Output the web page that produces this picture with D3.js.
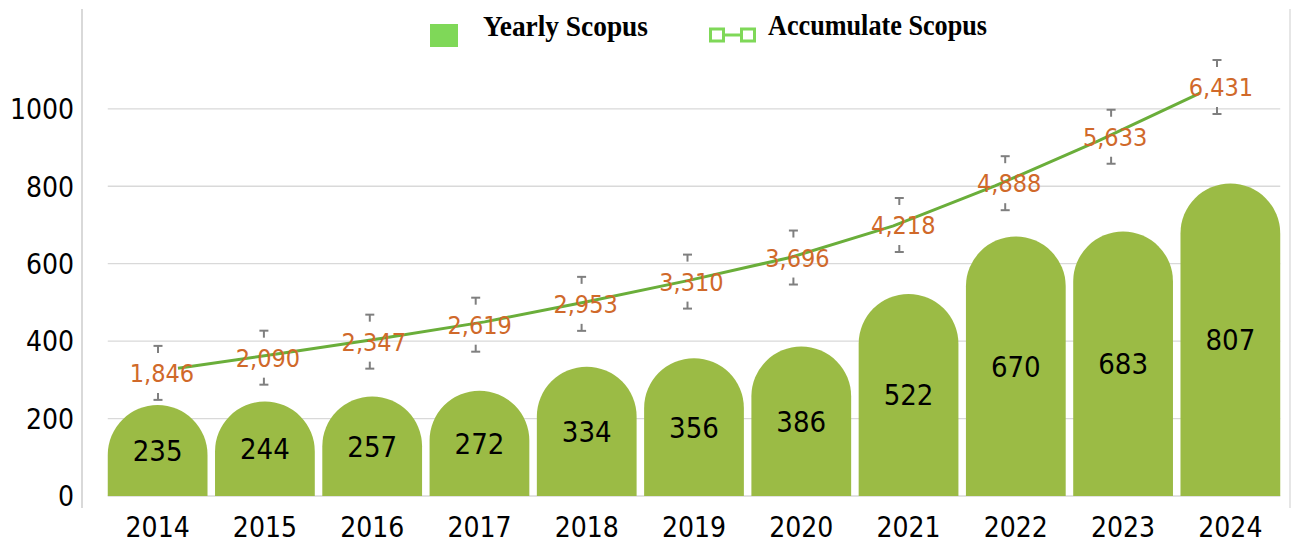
<!DOCTYPE html>
<html>
<head>
<meta charset="utf-8">
<script src="https://cdn.jsdelivr.net/npm/d3@7"></script>
<style>
  body { margin: 0; background: #fff; }
  svg { display: block; }
</style>
</head>
<body>
<svg id="chart" width="1293" height="549"></svg>
<script>
const years = ["2014", "2015", "2016", "2017", "2018", "2019", "2020", "2021", "2022", "2023", "2024"];
const yearly = [235, 244, 257, 272, 334, 356, 386, 522, 670, 683, 807];
const accumulate = [1846, 2090, 2347, 2619, 2953, 3310, 3696, 4218, 4888, 5633, 6431];
const yTicks = [0, 200, 400, 600, 800, 1000];

const numFont = "'DejaVu Sans Condensed', 'DejaVu Sans', 'Noto Sans', sans-serif";
const serif = "'Liberation Serif', 'Times New Roman', serif";
const barColor = "#9bbb45";
const legendGreen = "#7fd858";
const lineColor = "#6aae3a";
const labelColor = "#d0692a";
const gridColor = "#d9d9d9";

const svg = d3.select("#chart");

// primary axis (yearly)
const x = d3.scaleBand().domain(years).range([104, 1284]).paddingInner(0.07).paddingOuter(0.035);
const y = d3.scaleLinear().domain([0, 1250]).range([496, 12]);

// secondary (accumulated) - line and labels sit on slightly different positions
const xLine = d3.scalePoint().domain(years).range([178, 1200]);
const yLine = d3.scaleLinear().domain([0, 7000]).range([479, 59]);
const xErr = d3.scalePoint().domain(years).range([158, 1217]);
const yErr = d3.scaleLinear().domain([0, 7000]).range([488, 51.5]);

const gx0 = x(years[0]), gx1 = x(years[years.length - 1]) + x.bandwidth();

// frame lines
svg.append("line").attr("x1", 82).attr("x2", 82).attr("y1", 9).attr("y2", 508)
  .attr("stroke", gridColor).attr("stroke-width", 2);
svg.append("line").attr("x1", 1290).attr("x2", 1290).attr("y1", 9).attr("y2", 508)
  .attr("stroke", "#e6e6e6").attr("stroke-width", 2);

// gridlines
svg.append("g").selectAll("line").data(yTicks).join("line")
  .attr("x1", gx0).attr("x2", gx1)
  .attr("y1", d => y(d)).attr("y2", d => y(d))
  .attr("stroke", gridColor).attr("stroke-width", 1.3);

// y axis
const yAxis = svg.append("g").attr("transform", "translate(74,0)")
  .call(d3.axisLeft(y).tickValues(yTicks).tickFormat(d3.format("d")).tickSize(0).tickPadding(0));
yAxis.select(".domain").remove();
yAxis.selectAll("text").attr("font-family", numFont).attr("font-size", 28)
  .attr("fill", "#000").attr("dy", "0.35em");

// x axis
const xAxis = svg.append("g").attr("transform", "translate(0,510)")
  .call(d3.axisBottom(x).tickSize(0).tickPadding(0));
xAxis.select(".domain").remove();
xAxis.selectAll("text").attr("font-family", numFont).attr("font-size", 28)
  .attr("fill", "#000").attr("dy", "0.95em");

// bars with round tops
const data = years.map((yr, i) => ({ yr, v: yearly[i], acc: accumulate[i] }));
const barPath = d => {
  const w = x.bandwidth(), r = w / 2, x0 = x(d.yr), y0 = y(0), yt = y(d.v);
  return `M${x0},${y0} L${x0},${yt + r} A${r},${r} 0 0 1 ${x0 + w},${yt + r} L${x0 + w},${y0} Z`;
};
svg.append("g").selectAll("path").data(data).join("path")
  .attr("d", barPath).attr("fill", barColor);

svg.append("g").selectAll("text").data(data).join("text")
  .attr("x", d => x(d.yr) + x.bandwidth() / 2)
  .attr("y", d => (y(0) + y(d.v)) / 2)
  .attr("dy", "0.36em")
  .attr("text-anchor", "middle")
  .attr("font-family", numFont).attr("font-size", 29).attr("fill", "#000")
  .text(d => d.v);

// accumulated line
svg.append("path").datum(data)
  .attr("d", d3.line().x(d => xLine(d.yr)).y(d => yLine(d.acc)))
  .attr("fill", "none").attr("stroke", lineColor).attr("stroke-width", 3);

// error bars
const err = svg.append("g").attr("stroke", "#7f7f7f").attr("stroke-width", 2);
data.forEach(d => {
  const cx = xErr(d.yr), cy = yErr(d.acc);
  [[-27, -20], [27, 20]].forEach(([cap, end]) => {
    err.append("line").attr("x1", cx - 4.5).attr("x2", cx + 4.5).attr("y1", cy + cap).attr("y2", cy + cap);
    err.append("line").attr("x1", cx).attr("x2", cx).attr("y1", cy + cap).attr("y2", cy + end);
  });
});

// accumulated labels
svg.append("g").selectAll("text").data(data).join("text")
  .attr("x", d => xErr(d.yr) + 4)
  .attr("y", d => yErr(d.acc))
  .attr("dy", "0.36em")
  .attr("text-anchor", "middle")
  .attr("font-family", numFont).attr("font-size", 25).attr("fill", labelColor)
  .text(d => d3.format(",")(d.acc));

// legend
const legend = svg.append("g");
legend.append("rect").attr("x", 430).attr("y", 24).attr("width", 28).attr("height", 23).attr("fill", legendGreen);
legend.append("text").attr("x", 483).attr("y", 35.5)
  .attr("font-family", serif).attr("font-weight", "bold")
  .attr("font-size", 30).attr("textLength", 165).attr("lengthAdjust", "spacingAndGlyphs")
  .text("Yearly Scopus");
legend.append("line").attr("x1", 720).attr("x2", 745).attr("y1", 35).attr("y2", 35)
  .attr("stroke", legendGreen).attr("stroke-width", 3);
[710.5, 741.5].forEach(lx => {
  legend.append("rect").attr("x", lx).attr("y", 29).attr("width", 13).attr("height", 12)
    .attr("fill", "#fff").attr("stroke", legendGreen).attr("stroke-width", 3);
});
legend.append("text").attr("x", 768).attr("y", 35)
  .attr("font-family", serif).attr("font-weight", "bold")
  .attr("font-size", 30).attr("textLength", 219).attr("lengthAdjust", "spacingAndGlyphs")
  .text("Accumulate Scopus");
</script>
</body>
</html>
